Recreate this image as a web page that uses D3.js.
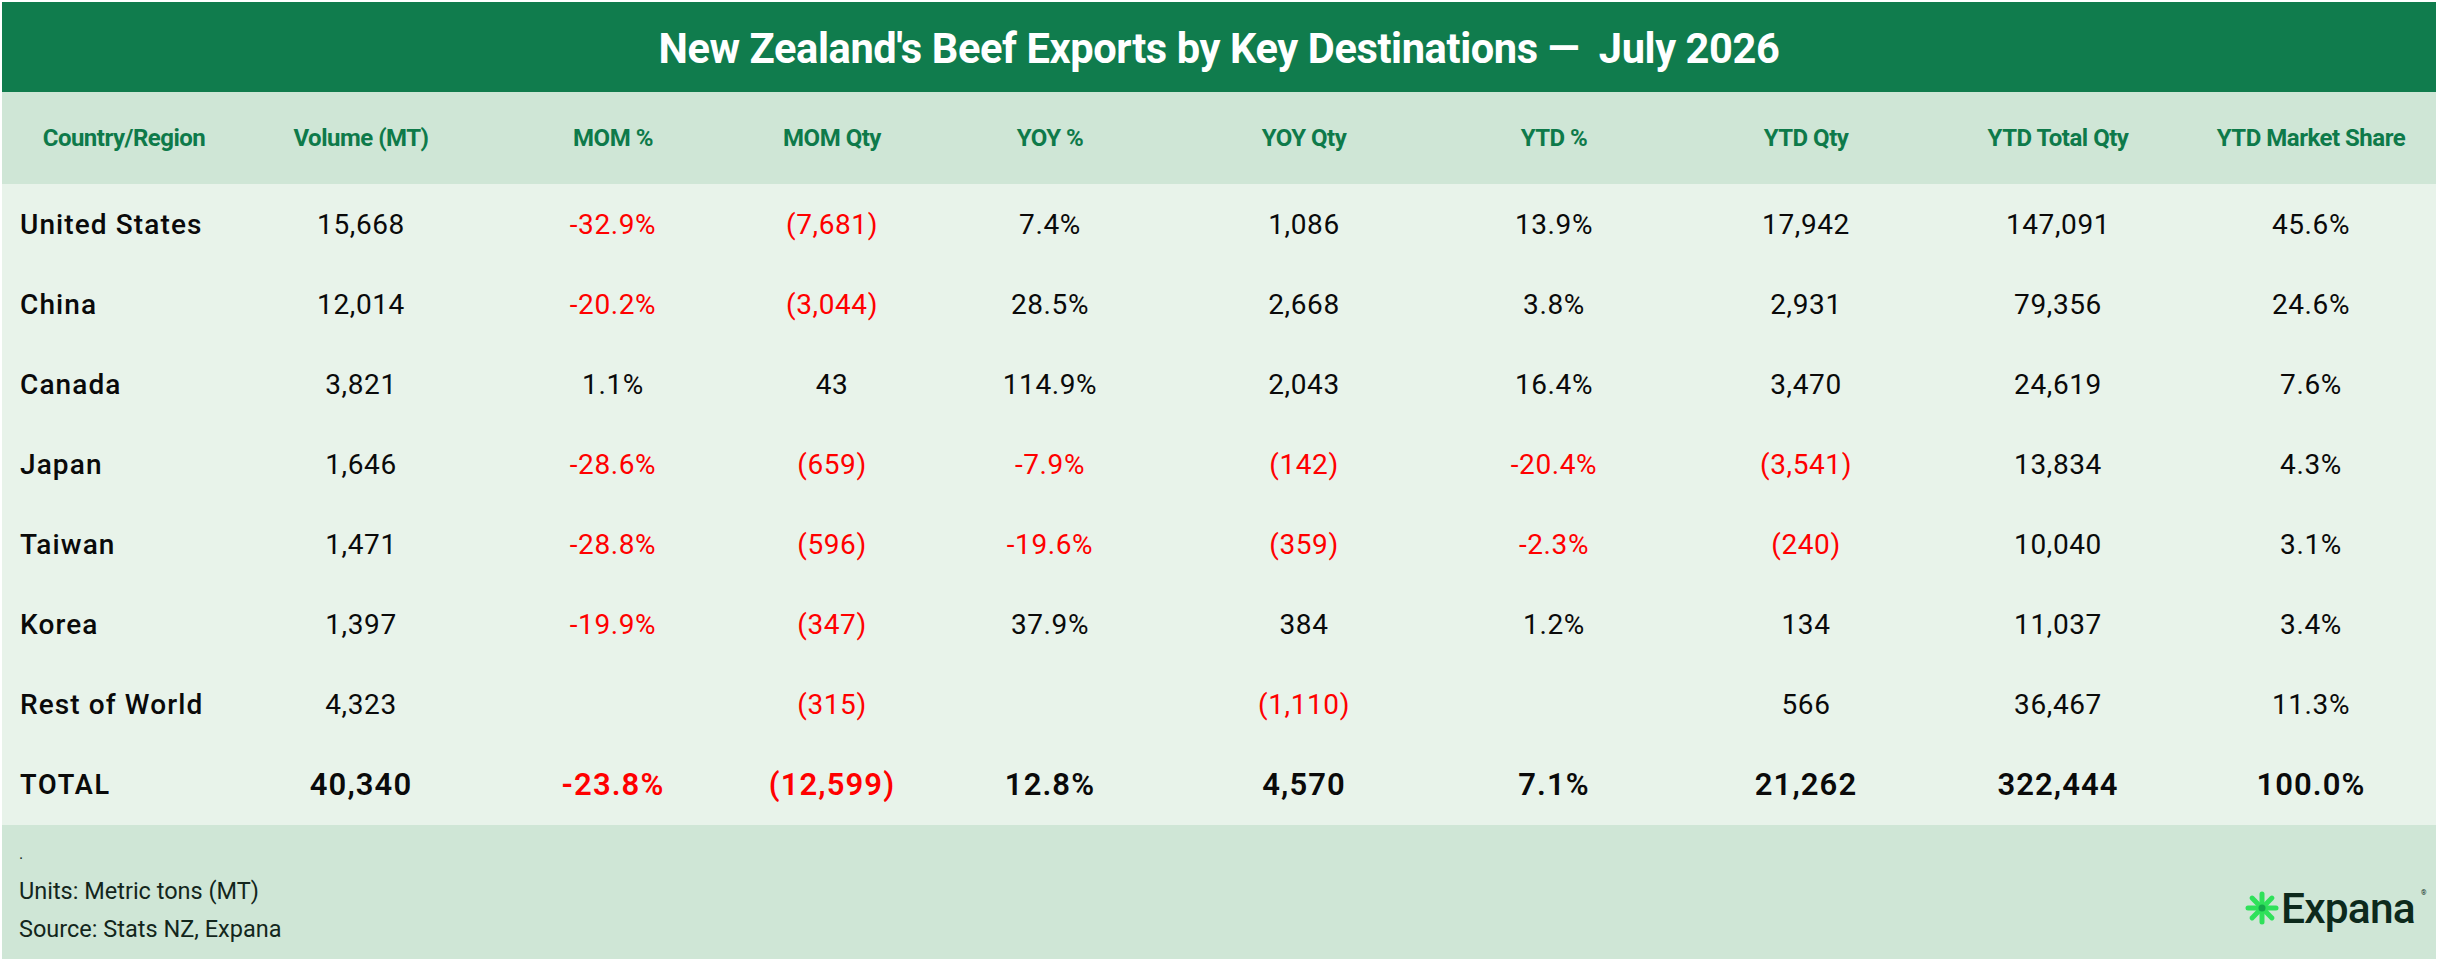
<!DOCTYPE html>
<html>
<head>
<meta charset="utf-8">
<script src="https://cdn.jsdelivr.net/npm/d3@7/dist/d3.min.js"></script>
<style>
  html, body { margin: 0; padding: 0; background: #ffffff; }
  svg { display: block; }
  text { font-family: Roboto, "Liberation Sans", sans-serif; }
</style>
</head>
<body>
<svg id="chart" width="2438" height="960"></svg>
<script>
const title = "New Zealand's Beef Exports by Key Destinations —  July 2026";
const columns = ["Country/Region", "Volume (MT)", "MOM %", "MOM Qty", "YOY %", "YOY Qty", "YTD %", "YTD Qty", "YTD Total Qty", "YTD Market Share"];
const columnKinds = ["name", "qty", "pct", "qty", "pct", "qty", "pct", "qty", "qty", "pct"];

const countries = ["United States", "China", "Canada", "Japan", "Taiwan", "Korea", "Rest of World"];
const volume = [15668, 12014, 3821, 1646, 1471, 1397, 4323];
const momPct = [-32.9, -20.2, 1.1, -28.6, -28.8, -19.9, null];
const momQty = [-7681, -3044, 43, -659, -596, -347, -315];
const yoyPct = [7.4, 28.5, 114.9, -7.9, -19.6, 37.9, null];
const yoyQty = [1086, 2668, 2043, -142, -359, 384, -1110];
const ytdPct = [13.9, 3.8, 16.4, -20.4, -2.3, 1.2, null];
const ytdQty = [17942, 2931, 3470, -3541, -240, 134, 566];
const ytdTotalQty = [147091, 79356, 24619, 13834, 10040, 11037, 36467];
const ytdShare = [45.6, 24.6, 7.6, 4.3, 3.1, 3.4, 11.3];

const totalLabel = "TOTAL";
const totalValues = [40340, -23.8, -12599, 12.8, 4570, 7.1, 21262, 322444, 100.0];

const footnotes = [".", "Units: Metric tons (MT)", "Source: Stats NZ, Expana"];

// layout
const W = 2438, H = 960;
const titleH = 92, headerBottom = 184, bodyBottom = 825;
const colCenters = [124, 361, 613, 832, 1050, 1304, 1554, 1806, 2058, 2311];
const nameX = 20;

const colors = {
  titleBg: "#107c4d",
  headerBg: "#cfe6d6",
  bodyBg: "#e8f3ea",
  headerText: "#0e7a4a",
  text: "#0a0a0a",
  neg: "#ff0000",
  footText: "#13261c"
};

const svg = d3.select("#chart");

const rowNames = [...countries, totalLabel];
const seriesByRow = countries.map((c, i) => [volume[i], momPct[i], momQty[i], yoyPct[i], yoyQty[i], ytdPct[i], ytdQty[i], ytdTotalQty[i], ytdShare[i]]);
const rows = rowNames.map((name, i) => ({
  name,
  total: name === totalLabel,
  values: name === totalLabel ? totalValues : seriesByRow[i]
}));

const x = d3.scaleOrdinal().domain(columns).range(colCenters);
const y = d3.scaleBand().domain(rowNames).range([headerBottom, bodyBottom]);

const fmtQty = d3.format(",");
function cellText(v, kind) {
  if (v == null) return "";
  if (kind === "qty") return v < 0 ? `(${fmtQty(-v)})` : fmtQty(v);
  return `${v < 0 ? "-" : ""}${Math.abs(v).toFixed(1)}%`;
}

// backgrounds
svg.append("rect").attr("x", 2).attr("y", 2).attr("width", W - 4).attr("height", titleH - 2).attr("fill", colors.titleBg);
svg.append("rect").attr("x", 2).attr("y", titleH).attr("width", W - 4).attr("height", headerBottom - titleH).attr("fill", colors.headerBg);
svg.append("rect").attr("x", 2).attr("y", headerBottom).attr("width", W - 4).attr("height", bodyBottom - headerBottom).attr("fill", colors.bodyBg);
svg.append("rect").attr("x", 2).attr("y", bodyBottom).attr("width", W - 4).attr("height", H - bodyBottom - 1).attr("fill", colors.headerBg);

// title
svg.append("text")
  .attr("x", W / 2).attr("y", titleH / 2 + 2)
  .attr("text-anchor", "middle").attr("dominant-baseline", "central")
  .attr("fill", "#ffffff").attr("font-size", 41.6).attr("font-weight", 700)
  .attr("letter-spacing", -0.4)
  .style("white-space", "pre")
  .text(title);

// header
svg.append("g").selectAll("text")
  .data(columns)
  .join("text")
  .attr("x", d => x(d))
  .attr("y", (titleH + headerBottom) / 2)
  .attr("text-anchor", "middle").attr("dominant-baseline", "central")
  .attr("fill", colors.headerText).attr("font-size", 24).attr("font-weight", 700)
  .attr("letter-spacing", -0.5)
  .text(d => d);

// body rows
const rowG = svg.append("g").selectAll("g")
  .data(rows)
  .join("g")
  .attr("transform", d => `translate(0,${y(d.name) + y.bandwidth() / 2})`);

rowG.append("text")
  .attr("x", nameX)
  .attr("dominant-baseline", "central")
  .attr("fill", colors.text)
  .attr("font-size", d => d.total ? 27 : 28)
  .attr("font-weight", d => d.total ? 600 : 500)
  .attr("letter-spacing", d => d.total ? 1.8 : 1.1)
  .text(d => d.name);

rowG.selectAll("text.val")
  .data(d => d.values.map((v, j) => ({ v, col: columns[j + 1], kind: columnKinds[j + 1], total: d.total })))
  .join("text")
  .attr("class", "val")
  .attr("x", d => x(d.col))
  .attr("text-anchor", "middle").attr("dominant-baseline", "central")
  .attr("fill", d => d.v != null && d.v < 0 ? colors.neg : colors.text)
  .attr("font-size", d => d.total ? 31 : 28)
  .attr("font-weight", d => d.total ? 600 : 400)
  .attr("letter-spacing", d => d.total ? 1.1 : 0.6)
  .text(d => cellText(d.v, d.kind));

// footnotes
svg.append("g").selectAll("text")
  .data(footnotes)
  .join("text")
  .attr("x", 19)
  .attr("y", (d, i) => 853 + i * 38)
  .attr("dominant-baseline", "central")
  .attr("fill", colors.footText)
  .attr("font-size", d => d === "." ? 16 : 23.5)
  .text(d => d);

// Expana logo
const logo = svg.append("g").attr("transform", "translate(2262,908)");
d3.range(8).forEach(k => {
  const a = k * Math.PI / 4;
  logo.append("line")
    .attr("x1", Math.cos(a) * 4).attr("y1", Math.sin(a) * 4)
    .attr("x2", Math.cos(a) * 14).attr("y2", Math.sin(a) * 14)
    .attr("stroke", "#2fe15a").attr("stroke-width", 5).attr("stroke-linecap", "round");
});
logo.append("circle").attr("r", 3.5).attr("fill", "#14a84a");
svg.append("text")
  .attr("x", 2281).attr("y", 908)
  .attr("dominant-baseline", "central")
  .attr("fill", "#0d2a1c").attr("font-size", 42.5).attr("font-weight", 500)
  .attr("letter-spacing", -0.8)
  .text("Expana");
svg.append("text")
  .attr("x", 2421).attr("y", 895)
  .attr("fill", "#0d2a1c").attr("font-size", 7)
  .text("®");
</script>
</body>
</html>
